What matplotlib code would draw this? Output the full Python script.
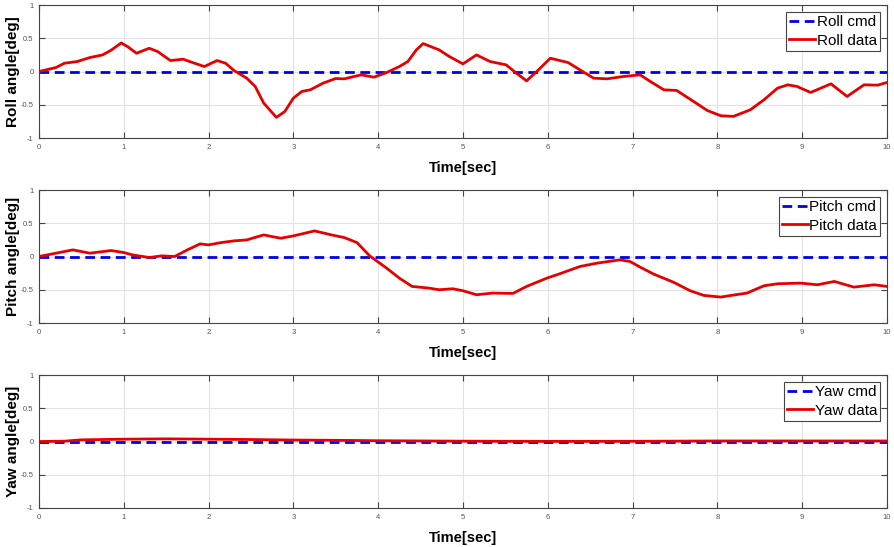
import matplotlib
matplotlib.use("Agg")
import matplotlib.pyplot as plt

plt.rcParams["font.family"] = ["Liberation Sans", "DejaVu Sans"]

# time/value pairs
roll_t = [0.0, 0.2, 0.3, 0.45, 0.6, 0.75, 0.85, 0.97, 1.05, 1.15, 1.3, 1.4, 1.55, 1.7,
          1.8, 1.95, 2.1, 2.2, 2.3, 2.45, 2.55, 2.65, 2.8, 2.9, 3.0, 3.1, 3.2, 3.35,
          3.5, 3.6, 3.8, 3.95, 4.1, 4.25, 4.35, 4.45, 4.53, 4.72, 4.84, 5.0, 5.16,
          5.32, 5.51, 5.63, 5.75, 5.87, 6.03, 6.24, 6.38, 6.54, 6.7, 6.89, 7.09,
          7.21, 7.37, 7.52, 7.72, 7.88, 8.04, 8.19, 8.39, 8.55, 8.71, 8.83, 8.94,
          9.1, 9.34, 9.53, 9.73, 9.89, 10.0]
roll_v = [0.0, 0.06, 0.125, 0.15, 0.21, 0.25, 0.32, 0.43, 0.37, 0.275, 0.35, 0.30,
          0.165, 0.185, 0.14, 0.075, 0.165, 0.125, 0.015, -0.1, -0.225, -0.475,
          -0.69, -0.6, -0.4, -0.3, -0.275, -0.175, -0.105, -0.11, -0.05, -0.085,
          -0.015, 0.075, 0.15, 0.325, 0.42, 0.325, 0.225, 0.115, 0.25, 0.15, 0.1,
          -0.025, -0.14, 0.0, 0.2, 0.135, 0.025, -0.1, -0.11, -0.075, -0.05, -0.15,
          -0.275, -0.285, -0.45, -0.585, -0.665, -0.675, -0.575, -0.425, -0.25,
          -0.2, -0.225, -0.315, -0.185, -0.375, -0.2, -0.205, -0.165]

pitch_t = [0.0, 0.2, 0.4, 0.6, 0.85, 1.0, 1.1, 1.3, 1.45, 1.6, 1.75, 1.9, 2.0, 2.15,
           2.3, 2.45, 2.65, 2.85, 3.0, 3.25, 3.45, 3.6, 3.75, 3.9, 4.1, 4.25, 4.4,
           4.6, 4.72, 4.88, 5.0, 5.16, 5.35, 5.59, 5.75, 5.99, 6.14, 6.38, 6.58,
           6.85, 6.97, 7.09, 7.25, 7.48, 7.68, 7.84, 8.04, 8.19, 8.35, 8.55, 8.71,
           8.98, 9.18, 9.38, 9.61, 9.85, 10.0]
pitch_v = [0.0, 0.05, 0.1, 0.05, 0.09, 0.06, 0.025, -0.015, 0.01, 0.0, 0.1, 0.19,
           0.175, 0.21, 0.235, 0.25, 0.325, 0.275, 0.31, 0.385, 0.325, 0.285, 0.21,
           0.01, -0.175, -0.325, -0.45, -0.475, -0.5, -0.485, -0.515, -0.575, -0.55,
           -0.555, -0.45, -0.325, -0.26, -0.15, -0.1, -0.05, -0.075, -0.16, -0.265,
           -0.385, -0.515, -0.585, -0.61, -0.58, -0.55, -0.44, -0.41, -0.4, -0.425,
           -0.375, -0.46, -0.425, -0.45]

yaw_t = [0.0, 0.3, 0.5, 1.0, 1.5, 2.0, 2.5, 3.0, 3.5, 4.0, 5.0, 6.0, 7.0, 8.0, 9.0, 10.0]
yaw_v = [0.0, 0.005, 0.025, 0.035, 0.04, 0.035, 0.03, 0.022, 0.018, 0.012, 0.005,
         0.002, 0.003, 0.008, 0.008, 0.008]

cmd_t = [0.0, 10.0]
cmd_v = [0.0, 0.0]

panels = [
    ("Roll", roll_t, roll_v),
    ("Pitch", pitch_t, pitch_v),
    ("Yaw", yaw_t, yaw_v),
]
bottoms = [0.7477, 0.4095, 0.0713]

fig = plt.figure(figsize=(8.94, 5.47), dpi=100)

for (name, t, v), b in zip(panels, bottoms):
    ax = fig.add_axes([0.0436, b, 0.9485, 0.2431])
    ax.plot(cmd_t, cmd_v, color="#0000e6", lw=2.0, dashes=(3.5, 2.0),
            label=f"{name} cmd")
    ax.plot(t, v, color="#e60000", lw=2.0, label=f"{name} data")
    ax.set_xlim(0, 10)
    ax.set_ylim(-1, 1)
    ax.set_xticks(range(0, 11))
    ax.set_yticks([-1, -0.5, 0, 0.5, 1])
    ax.set_yticklabels(["-1", "-0.5", "0", "0.5", "1"])
    ax.grid(True, color="#e3e3e3", lw=0.8)
    ax.set_axisbelow(True)
    ax.tick_params(direction="in", length=4, width=0.8, top=True, right=True,
                   labelsize=5.5, labelcolor="#555555", color="#444444", pad=4)
    for sp in ax.spines.values():
        sp.set_color("#444444")
        sp.set_linewidth(0.8)
    ax.set_ylabel(f"{name} angle[deg]", fontsize=11, fontweight="bold")
    ax.yaxis.set_label_coords(-0.0224, 0.5)
    ax.set_xlabel("Time[sec]", fontsize=10.5, fontweight="bold")
    ax.xaxis.set_label_coords(0.5, -0.17)
    leg = ax.legend(loc="upper right", fontsize=11, fancybox=False, framealpha=1,
                    edgecolor="#444444", borderpad=0.2, labelspacing=0.3,
                    handlelength=1.7, handletextpad=0.1, borderaxespad=0.45)
    leg.get_frame().set_linewidth(0.8)

fig.savefig("out.png", dpi=100)
